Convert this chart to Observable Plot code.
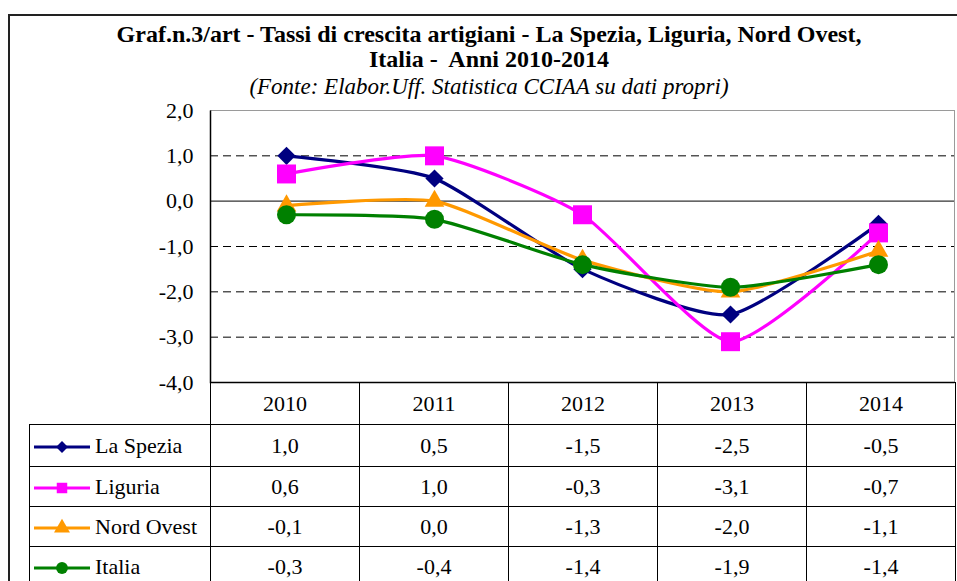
<!DOCTYPE html>
<html><head><meta charset="utf-8">
<script src="https://cdn.jsdelivr.net/npm/d3@7"></script>
<script src="https://cdn.jsdelivr.net/npm/@observablehq/plot@0.6"></script>
<style>
body{margin:0;background:#fff;}
#root{position:relative;width:957px;height:581px;overflow:hidden;font-family:"Liberation Serif","Times New Roman",Times,serif;color:#000;background:#fff;}
#frame{position:absolute;left:8px;top:14px;width:1000px;height:700px;border-top:2px solid #222;border-left:2px solid #222;}
.title{position:absolute;left:8px;width:962px;text-align:center;font-weight:bold;font-size:24px;line-height:25px;white-space:nowrap;}
#sub{position:absolute;left:8px;width:962px;top:74px;line-height:25px;text-align:center;font-style:italic;font-size:23px;}
#chart{position:absolute;left:0;top:100px;}
#tbl{position:absolute;left:29px;top:382px;border-collapse:collapse;table-layout:fixed;font-size:22px;}
#tbl td{border:1px solid #000;text-align:center;padding:0;}
#tbl td.lab{text-align:left;white-space:nowrap;}
#tbl td.lab svg{vertical-align:middle;margin-left:3px;margin-right:4px;}
</style>
</head><body>
<div id="root">
  <div id="frame"></div>
  <div class="title" id="t1" style="top:22px">Graf.n.3/art - Tassi di crescita artigiani - La Spezia, Liguria, Nord Ovest,</div>
  <div class="title" id="t2" style="top:47px">Italia -&nbsp; Anni 2010-2014</div>
  <div id="sub">(Fonte: Elabor.Uff. Statistica CCIAA su dati propri)</div>
  <div id="chart"></div>
  <table id="tbl"></table>
</div>
<script>
const years = ["2010", "2011", "2012", "2013", "2014"];
const seriesNames = ["La Spezia", "Liguria", "Nord Ovest", "Italia"];
const laSpezia = [1.0, 0.5, -1.5, -2.5, -0.5];
const liguria = [0.6, 1.0, -0.3, -3.1, -0.7];
const nordOvest = [-0.1, 0.0, -1.3, -2.0, -1.1];
const italia = [-0.3, -0.4, -1.4, -1.9, -1.4];
const yTicks = [-4, -3, -2, -1, 0, 1, 2];
const gridDashed = [-3, -2, -1, 1];

const colors = ["#000080", "#FF00FF", "#FF9900", "#008000"];
const symbols = ["diamond2", "square", "triangle", "circle"];
const radii = [8.2, 10.7, 7.3, 9.5];
const values = [laSpezia, liguria, nordOvest, italia];

const fmt = v => v.toFixed(1).replace(".", ",");

const data = seriesNames.flatMap((s, k) => years.map((y, i) => ({series: s, year: y, value: values[k][i]})));

const W = 957 - 210 - 3, H = 283 - 10 - 1;
const marks = [
  Plot.frame({stroke: "#9a9a9a"}),
  Plot.ruleY(gridDashed, {stroke: "#000", strokeWidth: 1, strokeDasharray: "8,5"}),
  Plot.ruleY([0], {stroke: "#333", strokeWidth: 1.2}),
  Plot.frame({stroke: "#000", strokeWidth: 1.5, strokeDasharray: `0,${W + H},${W + H}`})
];
seriesNames.forEach((s, k) => {
  const d = data.filter(r => r.series === s);
  marks.push(Plot.line(d, {x: "year", y: "value", stroke: colors[k], strokeWidth: 3.2, curve: "cardinal", tension: 0.4}));
});
seriesNames.forEach((s, k) => {
  const d = data.filter(r => r.series === s);
  marks.push(Plot.dot(d, {x: "year", y: "value", fill: colors[k], stroke: "none", symbol: symbols[k], r: radii[k]}));
});

const chart = Plot.plot({
  width: 957, height: 283,
  marginTop: 10, marginBottom: 1, marginLeft: 210, marginRight: 3,
  x: {type: "point", domain: years, padding: 0.5, axis: null},
  y: {domain: [-4, 2], ticks: yTicks, tickFormat: fmt, tickSize: 0, tickPadding: 17, label: null},
  style: {fontFamily: "'Liberation Serif', 'Times New Roman', Times, serif", fontSize: "22px", color: "#000", background: "transparent", overflow: "visible"},
  marks
});
document.getElementById("chart").appendChild(chart);

// data table
const tbl = d3.select("#tbl");
const cg = tbl.append("colgroup");
cg.append("col").style("width", "181px");
years.forEach(() => cg.append("col").style("width", "149px"));
const hr = tbl.append("tr").style("height", "42px");
hr.append("td").style("border", "none").style("border-right", "1px solid #000");
years.forEach(y => hr.append("td").text(y));
const rowH = [42, 40, 40, 40];
const symMap = {diamond2: d3.symbolDiamond2, square: d3.symbolSquare, triangle: d3.symbolTriangle, circle: d3.symbolCircle};
seriesNames.forEach((s, k) => {
  const tr = tbl.append("tr").style("height", rowH[k] + "px");
  const lab = tr.append("td").attr("class", "lab");
  const svg = lab.append("svg").attr("width", 58).attr("height", 20);
  svg.append("line").attr("x1", 1).attr("x2", 57).attr("y1", 10).attr("y2", 10).attr("stroke", colors[k]).attr("stroke-width", 3);
  svg.append("path").attr("transform", "translate(29,10)").attr("d", d3.symbol(symMap[symbols[k]], [90, 110, 110, 110][k])()).attr("fill", colors[k]);
  lab.append("span").text(s);
  values[k].forEach(v => tr.append("td").text(fmt(v)));
});
</script>
</body></html>
